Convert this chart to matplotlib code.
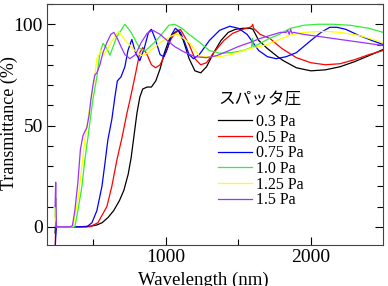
import matplotlib
matplotlib.use("Agg")
import matplotlib.pyplot as plt
from matplotlib.ticker import MultipleLocator

plt.rcParams['font.family'] = ['Liberation Serif', 'Noto Sans CJK JP']
plt.rcParams['mathtext.fontset'] = 'stix'

labels = ['0.3 Pa', '0.5 Pa', '0.75 Pa', '1.0 Pa', '1.25 Pa', '1.5 Pa']
colors = ['#000000', '#ff0000', '#0000ff', '#33ee33', '#ffff00', '#9933ff']
legend_title = 'スパッタ圧'

wl_03 = [236, 240, 245, 250, 300, 400, 480, 520, 560, 600, 640, 680, 710, 740, 760, 780, 800, 820, 840,
         870, 900, 930, 960, 990, 1020, 1050, 1085, 1120, 1160, 1200, 1240, 1280, 1330, 1380, 1430, 1480,
         1530, 1580, 1600, 1640, 1700, 1770, 1810, 1900, 2000, 2100, 2200, 2300, 2400, 2497]
t_03 = [-3, 2, 0.5, 0, 0, 0, 0.3, 0.8, 2, 4.5, 8, 13, 18, 26, 34, 45, 56, 64, 68,
        69, 69, 72, 78, 86, 92, 95.5, 97, 92, 83, 77, 76, 79, 86, 92, 96, 97.5,
        98, 98, 97.5, 92, 88, 84, 82, 78.5, 77, 77.5, 79, 81.5, 84.5, 87.5]

wl_05 = [236, 240, 245, 300, 400, 476, 531, 593, 627, 662, 697, 717, 731, 752, 786, 820, 840, 870, 900,
         930, 960, 1000, 1030, 1060, 1100, 1160, 1200, 1240, 1280, 1330, 1400, 1460, 1530, 1580, 1592,
         1598, 1605, 1650, 1717, 1800, 1900, 2000, 2100, 2200, 2300, 2400, 2497]
t_05 = [-15, 3, 0, 0, 0, 0, 2, 10, 20, 33, 44, 51, 56, 62.6, 74, 86, 88.5, 85, 80,
        78.5, 80, 86, 92, 95.5, 97.5, 90, 83, 80, 81, 86, 92, 95.5, 97.5, 98.5, 99,
        100, 98, 95, 93, 88, 83.5, 81, 80, 80.5, 82.5, 85, 87]

wl_075 = [236, 240, 245, 300, 400, 455, 490, 524, 559, 579, 600, 627, 648, 665, 690, 717, 738, 765,
          790, 820, 850, 880, 900, 925, 960, 985, 1010, 1040, 1065, 1100, 1130, 1160, 1190, 1230, 1300,
          1370, 1440, 1500, 1560, 1600, 1640, 1700, 1760, 1830, 1900, 2000, 2070, 2130, 2180, 2240,
          2330, 2420, 2497]
t_075 = [-12, -5, 0, 0, 0, 0, 2, 8, 20, 31, 43, 53, 64, 72, 74, 79, 87, 92.5,
         86, 82, 88, 96, 97.5, 93, 85, 84, 88, 95, 98, 96, 91, 85, 83, 85, 92,
         97, 99, 98, 95, 91, 87, 84, 83, 84, 86, 92, 96, 98.5, 98.5, 97.5,
         94.5, 92, 90]

wl_10 = [236, 240, 245, 300, 372, 393, 421, 441, 462, 480, 497, 524, 545, 566, 593, 614, 660, 717, 760,
         820, 860, 920, 970, 1020, 1060, 1110, 1160, 1234, 1300, 1372, 1450, 1530, 1590, 1596, 1602,
         1650, 1700, 1780, 1860, 1950, 2050, 2150, 2270, 2400, 2497]
t_10 = [5, 14, 0, 0, 0, 8, 20, 33, 44, 54, 63, 74, 85.7, 90.6, 88, 84.7, 93.6, 100, 96,
        88, 87, 91, 95, 99.5, 100, 98, 95, 91, 87, 85.7, 86, 87, 88.5, 93, 89,
        90.5, 92.5, 95, 98, 99.5, 100, 100, 99.5, 98, 96]

wl_125 = [236, 240, 245, 300, 359, 393, 421, 441, 462, 483, 503, 524, 552, 572, 630, 672, 720, 786,
          830, 880, 960, 1048, 1083, 1166, 1234, 1300, 1372, 1450, 1579, 1700, 1855, 1950, 2100,
          2200, 2330, 2497]
t_125 = [3, 13, 0, 0, 0, 13, 30, 43, 53, 63, 71, 83, 87, 84.7, 92, 96.5, 92, 87,
         84.5, 86, 91, 94.6, 95, 90.6, 84, 84, 84, 85, 88, 90, 94.6, 96, 96.5,
         96, 94.5, 91]

wl_15 = [236, 240, 245, 300, 338, 355, 372, 393, 410, 428, 441, 455, 470, 483, 497, 510, 524, 545, 566,
         593, 620, 641, 665, 690, 717, 752, 790, 830, 870, 910, 960, 1000, 1060, 1120, 1200, 1280,
         1350, 1420, 1500, 1580, 1650, 1720, 1790, 1830, 1840, 1850, 1860, 1870, 1880, 1950, 2050,
         2200, 2350, 2497]
t_15 = [10, 22, 0, 0, 0, 0.5, 8, 22, 38, 45, 47, 49, 55, 63, 70, 75, 76, 80, 86,
        91, 95, 96, 93, 89, 85, 83, 85, 91, 95.5, 97, 95, 92.5, 89, 86.5, 84, 83.5,
        84.5, 86.5, 89, 91, 93, 94.5, 96, 96, 97, 95, 97.5, 95.5, 96, 95, 94,
        92.5, 91, 89.5]

series = [(wl_03, t_03), (wl_05, t_05), (wl_075, t_075), (wl_10, t_10), (wl_125, t_125), (wl_15, t_15)]

fig = plt.figure(figsize=(3.88, 2.86), dpi=100)
ax = fig.add_axes([47/388, 1-245/286, (383-47)/388, (245-4)/286])

for (x, y), c, lab in zip(series, colors, labels):
    ax.plot(x, y, color=c, lw=0.9, label=lab)

ax.set_xlim(180, 2497)
ax.set_ylim(-9, 110)
ax.xaxis.set_major_locator(MultipleLocator(1000))
ax.xaxis.set_minor_locator(MultipleLocator(500))
ax.yaxis.set_major_locator(MultipleLocator(50))
ax.yaxis.set_minor_locator(MultipleLocator(10))
ax.tick_params(which='both', direction='in', top=True, right=True, labelsize=14)
ax.tick_params(which='major', length=6, width=0.8, pad=3)
ax.tick_params(which='minor', length=4, width=0.8)
for s in ax.spines.values():
    s.set_linewidth(0.8)
    s.set_color('#444444')

ax.set_xlabel('Wavelength (nm)', fontsize=13.5)
ax.set_ylabel('Transmittance (%)', fontsize=13)
ax.xaxis.set_label_coords((203.5-47)/336, -(272-245)/241)
ax.yaxis.set_label_coords((18.5-47)/336, (245-123)/241)

fig.text(218/388, 1-100/286, legend_title, fontsize=12, family=['Noto Sans CJK JP'],
         ha='left', va='center')
leg = ax.legend(loc='upper left', bbox_to_anchor=(218/388, 1-114/286), bbox_transform=fig.transFigure,
                frameon=False, fontsize=11.5, handlelength=2.1, handletextpad=0.3,
                labelspacing=-0.02, borderpad=0, borderaxespad=0)

fig.savefig('out.png', dpi=100)
